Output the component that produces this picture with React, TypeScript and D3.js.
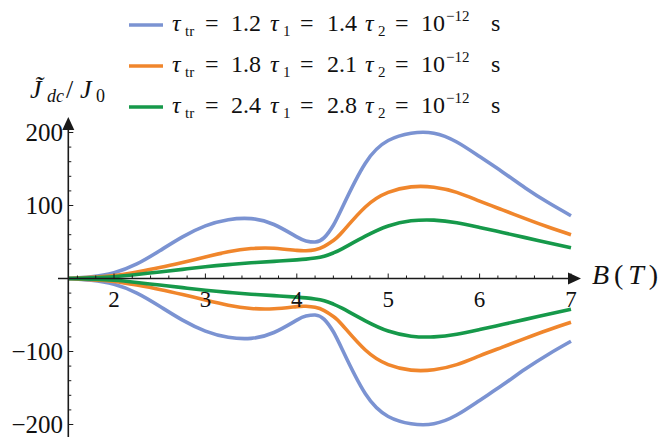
import React from 'react';
import * as d3 from 'd3';

// Magnetic field B (T) sample points
const fieldB = [1.5, 1.75, 2, 2.25, 2.5, 2.75, 3, 3.25, 3.5, 3.75, 4, 4.1, 4.2, 4.3, 4.4, 4.5, 4.75, 5, 5.25, 5.5, 5.75, 6, 6.25, 6.5, 6.75, 7];

// Normalised dc current, upper branches
const blueUpper = [0, 2.5, 8, 20, 38, 57, 72, 80.5, 82, 74, 57, 51.5, 50, 56, 73, 98, 158, 189, 199, 199, 187, 167, 146, 124, 104, 86];
const orangeUpper = [0, 1.5, 4, 9, 15, 22, 29.5, 36.5, 41, 41.5, 38.5, 38, 39.5, 44, 52, 64, 98, 118, 125.5, 125, 118, 106, 94, 82, 70.5, 60];
const greenUpper = [0, 1, 2.5, 5.5, 9, 12.5, 16, 19, 21.5, 23.5, 25.5, 26.5, 28, 30.5, 35, 41, 58, 72, 79, 80, 76.5, 70, 63, 56, 49, 42];

// Lower branches
const blueLower = [0, -2.5, -8, -20, -38, -57, -72, -80.5, -82, -74, -57, -51.5, -50, -56, -73, -98, -158, -189, -199, -199, -187, -167, -146, -124, -104, -86];
const orangeLower = [0, -1.5, -4, -9, -15, -22, -29.5, -36.5, -41, -41.5, -38.5, -38, -39.5, -44, -52, -64, -98, -118, -125.5, -125, -118, -106, -94, -82, -70.5, -60];
const greenLower = [0, -1, -2.5, -5.5, -9, -12.5, -16, -19, -21.5, -23.5, -25.5, -26.5, -28, -30.5, -35, -41, -58, -72, -79, -80, -76.5, -70, -63, -56, -49, -42];

const xTicks = [2, 3, 4, 5, 6, 7];
const yTicks = [-200, -100, 100, 200];
const legendRows = [
  { tr: '1.2', t1: '1.4' },
  { tr: '1.8', t1: '2.1' },
  { tr: '2.4', t1: '2.8' },
];

const COLORS = ['#7b93d2', '#f0862c', '#16994a'];

const W = 659;
const H = 437;
const SERIF =
  "'Liberation Serif', 'Times New Roman', Times, Tinos, 'Noto Serif', 'DejaVu Serif', 'Nimbus Roman', FreeSerif, serif";

export default function App() {
  const x = d3.scaleLinear().domain([1.5, 7]).range([68.3, 571]);
  const y = d3.scaleLinear().domain([-200, 200]).range([424.5, 132.5]);

  const line = d3
    .line<number>()
    .x((_, i) => x(fieldB[i]))
    .y((v) => y(v))
    .curve(d3.curveNatural);

  const series = [
    { up: blueUpper, low: blueLower, color: COLORS[0] },
    { up: orangeUpper, low: orangeLower, color: COLORS[1] },
    { up: greenUpper, low: greenLower, color: COLORS[2] },
  ];

  const x0 = x(1.5);
  const y0 = y(0);

  const minorX = d3.range(16, 71, 2).map((d) => d / 10);
  const minorY = d3.range(-200, 201, 20).filter((d) => d !== 0);

  const axisColor = '#1a1a1a';
  const txt = { fontFamily: SERIF, fill: '#111' };
  const sub = 15;

  return (
    <svg
      width={W}
      height={H}
      style={{ position: 'absolute', left: 0, top: 0, background: '#fff', fontFamily: SERIF }}
    >
      <rect width={W} height={H} fill="#fff" />

      {/* curves */}
      {series.map((s, k) => (
        <g key={k} fill="none" stroke={s.color} strokeWidth={3.6} strokeLinejoin="round">
          <path d={line(s.up) || ''} />
          <path d={line(s.low) || ''} />
        </g>
      ))}

      {/* x axis */}
      <line x1={58} x2={570} y1={y0} y2={y0} stroke={axisColor} strokeWidth={1.6} />
      <path d={`M${581},${y0} L${568},${y0 - 6} L${568},${y0 + 6} Z`} fill={axisColor} />
      {minorX.map((b) => {
        const major = Math.abs(b - Math.round(b)) < 1e-6;
        return (
          <line
            key={'xt' + b}
            x1={x(b)}
            x2={x(b)}
            y1={y0}
            y2={y0 - (major ? 5 : 3)}
            stroke={axisColor}
            strokeWidth={1}
          />
        );
      })}
      {xTicks.map((b) => (
        <text key={'xl' + b} x={x(b)} y={307} fontSize={23} textAnchor="middle" style={txt}>
          {b}
        </text>
      ))}
      <text x={592} y={284} fontSize={28} style={txt} textLength={66} lengthAdjust="spacing">
        <tspan fontStyle="italic">B</tspan>
        <tspan>(</tspan>
        <tspan fontStyle="italic">T</tspan>
        <tspan>)</tspan>
      </text>

      {/* y axis */}
      <line x1={x0} x2={x0} y1={H} y2={128} stroke={axisColor} strokeWidth={1.6} />
      <path d={`M${x0},${117} L${x0 - 6},${130} L${x0 + 6},${130} Z`} fill={axisColor} />
      {minorY.map((v) => {
        const major = v % 100 === 0;
        return (
          <line
            key={'yt' + v}
            x1={x0}
            x2={x0 + (major ? 5 : 3)}
            y1={y(v)}
            y2={y(v)}
            stroke={axisColor}
            strokeWidth={1}
          />
        );
      })}
      {yTicks.map((v) => (
        <text key={'yl' + v} x={63} y={y(v) + 8.5} fontSize={25} textAnchor="end" style={txt}>
          {v < 0 ? '\u2212' + Math.abs(v) : v}
        </text>
      ))}

      {/* y axis title: J-tilde_dc / J_0 */}
      <text y={98} fontSize={26} style={txt}>
        <tspan x={30} fontStyle="italic">{'J\u0303'}</tspan>
        <tspan x={47} dy={4} fontSize={18} fontStyle="italic">dc</tspan>
        <tspan x={66} dy={-4}>/</tspan>
        <tspan x={80} fontStyle="italic">J</tspan>
        <tspan x={96} dy={4} fontSize={18}>0</tspan>
      </text>

      {/* legend */}
      {legendRows.map((r, i) => {
        const ly = 25 + i * 41;
        const by = ly + 6;
        return (
          <g key={'lg' + i}>
            <line x1={129} x2={163} y1={ly} y2={ly} stroke={COLORS[i]} strokeWidth={3.6} />
            <text y={by} fontSize={24} style={txt}>
              <tspan x={172} fontStyle="italic">τ</tspan>
              <tspan x={185} dy={5} fontSize={sub}>tr</tspan>
              <tspan x={205} dy={-5}>=</tspan>
              <tspan x={231}>{r.tr}</tspan>
              <tspan x={270} fontStyle="italic">τ</tspan>
              <tspan x={283} dy={5} fontSize={sub}>1</tspan>
              <tspan x={300} dy={-5}>=</tspan>
              <tspan x={327}>{r.t1}</tspan>
              <tspan x={365} fontStyle="italic">τ</tspan>
              <tspan x={378} dy={5} fontSize={sub}>2</tspan>
              <tspan x={395} dy={-5}>=</tspan>
              <tspan x={421}>10</tspan>
              <tspan x={446} dy={-10} fontSize={sub}>{'\u2212'}12</tspan>
              <tspan x={491} dy={10}>s</tspan>
            </text>
          </g>
        );
      })}
    </svg>
  );
}
